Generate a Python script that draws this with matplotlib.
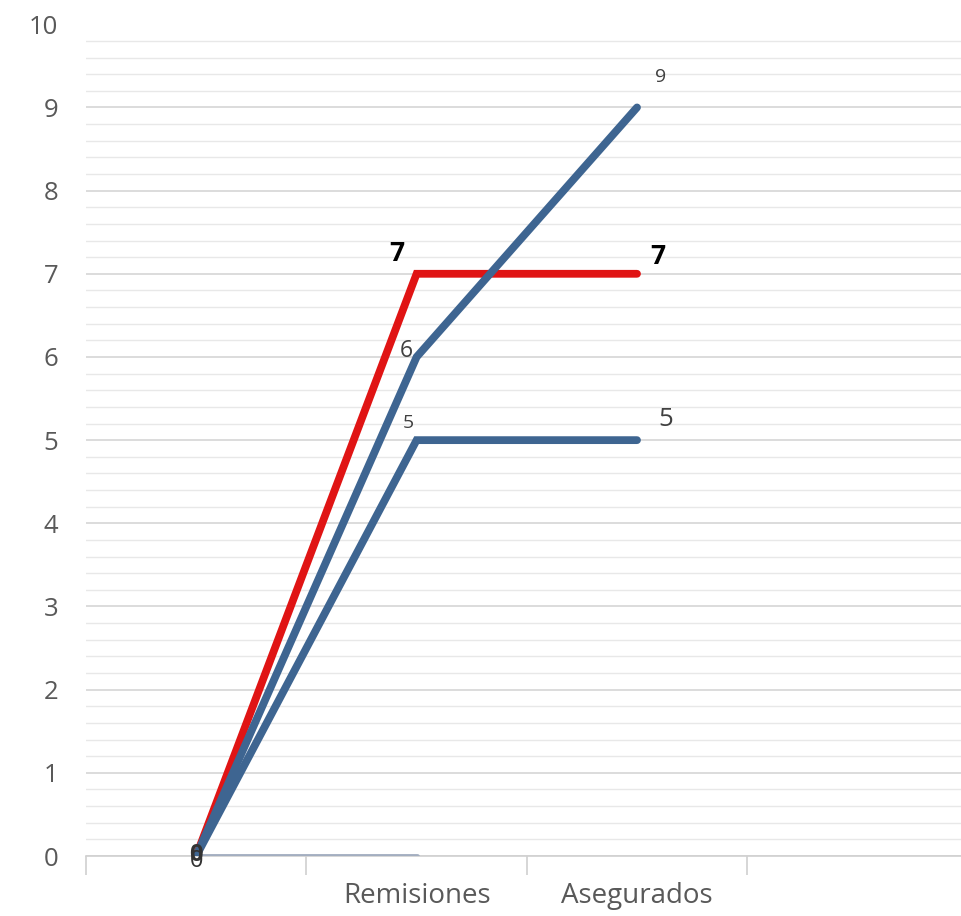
import numpy as np
import matplotlib
matplotlib.use("Agg")
from matplotlib import pyplot as plt
from matplotlib.ticker import MultipleLocator, FixedLocator

# categorie e serie
categorias = ["", "Remisiones", "Asegurados", ""]
serie_gris = [0, 0]
serie_azul_baja = [0, 5, 5]
serie_roja = [0, 7, 7]
serie_azul_alta = [0, 6, 9]

plt.rcParams['font.family'] = ['Open Sans', 'DejaVu Sans']

fig = plt.figure(figsize=(9.61, 9.16), dpi=100)
ax = fig.add_axes([0.0895, 0.0655, 0.9105, 0.908])

x = np.arange(len(categorias))

ax.plot(x[:len(serie_gris)], serie_gris, color='#a3aec0', lw=3.5,
        solid_capstyle='round', zorder=3)
ax.plot(x[:3], serie_azul_baja, color='#3e6591', lw=5.6,
        solid_capstyle='round', solid_joinstyle='miter', zorder=4)
ax.plot(x[:3], serie_roja, color='#e01414', lw=5.6,
        solid_capstyle='round', solid_joinstyle='miter', zorder=5)
ax.plot(x[:3], serie_azul_alta, color='#3e6591', lw=5.6,
        solid_capstyle='round', solid_joinstyle='miter', zorder=6)

# etichette dei valori
def etichetta(xi, yi, testo, dx, dy, size, bold=False, color='#404040'):
    ax.annotate(testo, (xi, yi), xytext=(dx, dy), textcoords='offset pixels',
                ha='center', va='center', fontsize=size, color=color,
                fontweight='bold' if bold else 'normal', zorder=10)

etichetta(1, serie_roja[1], "7", -20, 20, 19, bold=True, color='black')
etichetta(2, serie_roja[2], "7", 21, 17, 19, bold=True, color='black')
etichetta(1, serie_azul_alta[1], "6", -10, 6, 16.5)
etichetta(2, serie_azul_alta[2], "9", 24, 30, 14)
etichetta(1, serie_azul_baja[1], "5", -8, 17, 14)
etichetta(2, serie_azul_baja[2], "5", 29, 21, 18.5)
etichetta(0, serie_roja[0], "0", 0, 1, 17, bold=True, color='#333333')
etichetta(0, serie_azul_alta[0], "0", 0, -5, 17, color='#333333')

ax.set_xlim(-0.5, 3.47)
ax.set_ylim(0, 10)

# griglia
ax.yaxis.set_major_locator(MultipleLocator(1))
ax.yaxis.set_minor_locator(MultipleLocator(0.2))
ax.grid(axis='y', which='major', color='#d6d6d6', lw=1.2, zorder=0)
ax.grid(axis='y', which='minor', color='#e8e8e8', lw=1.0, zorder=0)
ax.set_axisbelow(True)

for s in ['top', 'right', 'left']:
    ax.spines[s].set_visible(False)
ax.spines['bottom'].set_color('#d0d0d0')
ax.spines['bottom'].set_linewidth(1.2)

ax.set_xticks(x)
ax.set_xticklabels(categorias, fontsize=20, color='#595959')
ax.xaxis.set_minor_locator(FixedLocator([-0.5, 0.5, 1.5, 2.5]))
ax.tick_params(axis='x', which='major', length=0, pad=19)
ax.tick_params(axis='x', which='minor', length=14, color='#d0d0d0', width=1.2)
ax.tick_params(axis='y', which='both', length=0)
ax.tick_params(axis='y', which='major', labelsize=18.5, labelcolor='#595959', pad=20)
ax.set_yticks(range(0, 11))

# nessuna linea sul 10
ax.get_ygridlines()[-1].set_visible(False)

fig.savefig("out.png", dpi=100)
